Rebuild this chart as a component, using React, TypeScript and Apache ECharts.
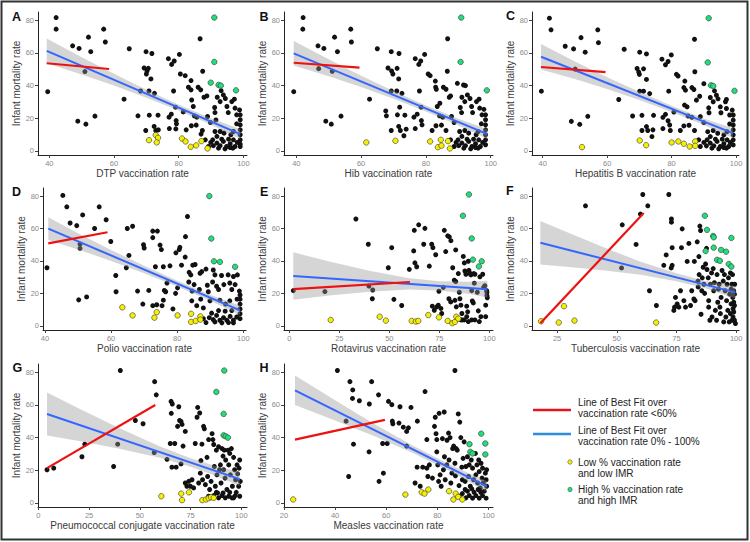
import React, { useEffect, useRef } from "react";
import * as echarts from "echarts";

const FONT = '"Liberation Sans", Arial, sans-serif';
const yTicks = [0, 20, 40, 60, 80];

// ---------- A: DTP ----------
const dtpBlack = [[42.1,81.6],[42.1,74.5],[39.5,36.2],[47.2,64.3],[49.2,62.7],[52.1,69.6],[52.8,60.7],[56.8,74.5],[57.3,66.6],[48.8,18.1],[51.3,16.3],[54.1,21.2],[51,48.5],[63.1,31.6],[64.7,62.5],[67.4,21.4],[69.9,60.7],[71.7,59.6],[69.3,50.7],[70.2,48.9],[70,47],[70.6,50.5],[71.4,44],[68.2,36.6],[70.8,36.6],[72.5,35.2],[70.9,21.8],[73.6,21.8],[69.8,12.4],[72.4,14.9],[72.9,12.4],[73.7,12.8],[76.8,56.4],[77.8,52.9],[78.6,55],[80.2,59],[80.5,47],[82,46],[78.4,36.6],[77,20.6],[77.7,22.4],[79,26.7],[79.2,18.5],[79.3,16.5],[79.1,13.4],[77.1,13.6],[81.4,23.8],[83,38.9],[83.8,43],[83.8,37.3],[84.5,27.1],[84,31.1],[84.8,21.4],[82.3,12.8],[83.9,15.3],[85.4,15.7],[85.6,20.6],[86.6,68.6],[86,38.9],[86.8,37.3],[87.4,48.7],[87.8,32.8],[87.3,12.4],[86.9,10.2],[88.7,33.6],[88.9,21],[89.8,17.3],[91.1,26.5],[91.2,23.4],[91.5,18.9],[91.9,32.8],[92.8,30.1],[93.1,36.8],[93.8,34.2],[94.4,32],[94.9,27.1],[95.3,23.4],[96.4,30.1],[97.2,31.6],[97.4,26.1],[97.9,22],[98.8,25],[99,22],[99,19],[99,15.9],[99,12.8],[99,9.8],[99,6.7],[99,4.1],[99,2.6],[97.9,16.5],[90.5,6.7],[91.8,4.7],[92.8,3.1],[93.8,5.7],[94.8,2.6],[95.9,4.3],[96.9,6.7],[92.3,1.6],[94.3,1.2],[95.9,2],[97.4,2.6],[90.7,3.1],[93.3,7.1],[95.4,7.1],[96.7,1.6],[98.1,5.1],[91.8,8.8],[96.1,9.8],[96.9,11.8],[94,10.8],[92.8,11.8],[91.2,11.8],[88.2,6.7],[89.2,2.6],[89.9,5.1]];
const dtpYellow = [[70.8,6.5],[72.9,9.6],[73.6,7.9],[73.2,5.1],[81,7.5],[82.1,5.7],[83.7,2.4],[85.4,3.3],[87,5.9],[88.9,1.4]];
const dtpGreen = [[91,81.6],[91,54.4],[89.9,41.7],[92.3,40.3],[93,39.9],[97.7,37]];
const dtpBand = [[39.2,53.6,68.8],[50,46.7,57.3],[60,39.9,47.1],[70,32.5,37.3],[80,24.6,28.2],[90,15.9,19.9],[99,7.2,13.2]];
const dtpFitAll = [[39.2,61.2],[99,10.2]];
const dtpFitLow = [[39.2,53.6],[58.5,50.1]];

// ---------- B: Hib ----------
const hibBlack = [[42.1,81.6],[42,74.5],[39.2,36.2],[46.7,64.3],[48.5,62.7],[51.8,69.6],[52.7,60.7],[56.8,74.5],[57,66.6],[49.1,18.1],[50.8,16.3],[53.8,21.2],[46.9,50.3],[51.1,48.7],[62.6,31.6],[65,62.5],[67.6,24.4],[67.8,21.4],[69.3,60.7],[71.7,59.6],[68.3,50.7],[69.4,48.9],[69.8,47],[71.1,50.5],[71.6,44],[69.3,36.6],[71,36.6],[72.6,35.2],[71.9,26.7],[71.2,22],[73.5,21.8],[69.3,12.4],[71.6,14.9],[72.1,12.4],[73.9,13.2],[73.2,9.2],[76.7,56.4],[77.8,52.9],[78.4,55],[79.6,59],[80.7,47],[81.3,46],[78,36.6],[76.3,20.6],[77.3,22.4],[78.5,26.7],[78.6,18.5],[78.8,15.9],[76.7,13.6],[82.9,42.7],[83,38.9],[83.2,37.7],[83.5,27.1],[84.3,29.1],[84.2,21.4],[81.9,12.4],[83.1,15.3],[84.8,15.7],[85.2,20.6],[86.7,68.6],[85.4,38.9],[86.2,37.7],[86.6,48.7],[87.2,32.8],[86.2,12.4],[87.6,33.6],[87.9,21],[88.7,17.3],[89.7,41.3],[91.6,40.3],[92.2,39.9],[90.6,26.5],[91,23.4],[91.1,32.8],[92,30.1],[92.8,34.2],[93.6,32],[94.1,27.1],[94.4,23.4],[95.6,30.1],[96.4,31.6],[96.6,26.1],[97.3,22],[97.9,25.4],[98.4,22],[98.4,19],[98.4,15.9],[98.4,12.8],[98.4,9.8],[98.4,6.7],[98.4,3.7],[97.1,16.5],[89.9,6.7],[91.1,4.7],[92.2,3.1],[93.2,5.7],[94.2,2.6],[95.3,4.3],[96.3,6.7],[91.7,1.6],[93.8,1.2],[95.3,2],[96.8,2.6],[90.1,3.1],[92.7,7.1],[94.7,7.1],[96.1,1.6],[97.5,5.1],[91.1,8.8],[95.5,9.8],[96.1,11.8],[93.2,10.8],[92,12.4],[90.4,11.8],[87.6,6.7],[88.7,2.6],[89.3,5.1]];
const hibYellow = [[61.6,5.1],[70.6,6.1],[81.3,5.7],[83.7,2.2],[84.6,6.7],[84.8,3.1],[86.8,5.9],[87.4,1.4]];
const hibGreen = [[90.9,81.6],[90.7,54.4],[98.8,37]];
const hibBand = [[39.2,52.2,67.2],[50,45.6,56],[60,39,46],[70,31.8,36.6],[80,24.1,27.7],[90,15.6,19.6],[99,7.2,13.2]];
const hibFitAll = [[39.2,59.7],[99,10.2]];
const hibFitLow = [[39.2,53.9],[59.5,50.9]];

// ---------- C: Hepatitis B ----------
const hepBlack = [[42.1,81.2],[42.6,74.1],[39.6,36.5],[47,64],[49.6,62.4],[51.9,69.3],[53.2,60.4],[57.1,74.1],[57.3,66.2],[48.9,18],[51.5,16.2],[54,21.1],[50.1,50],[63.6,31.4],[65.3,62.2],[67.9,21.3],[70.1,60.4],[72.2,59.3],[69.3,50.4],[69.8,48.2],[70,46.8],[71.3,50.2],[72.2,43.7],[70.1,36.5],[71.3,36.5],[73.2,35],[70.8,21.7],[74.4,21.7],[70.8,12.4],[72.2,14.8],[72.6,12.4],[74.2,12.8],[73.9,8.7],[77,56.1],[78.1,52.7],[78.9,54.7],[79.9,58.7],[81.5,46.8],[82,45.8],[79.1,36.5],[77.3,20.5],[78.1,22.3],[80.7,23.7],[78.9,18.4],[79.4,15.8],[77.3,13.6],[79.6,12.4],[83.8,38.7],[84.1,42.7],[84.3,37.1],[84.8,26.9],[84,28],[85.1,21.3],[82.7,12.4],[83.8,15.2],[85.4,15.6],[86.3,20.5],[87.1,68.3],[86.3,38.7],[86.9,37.5],[87.2,48.4],[87.7,31],[87.1,12.4],[88.7,33.4],[88.9,20.9],[90,17.2],[90,41.1],[91.5,26.3],[91.6,23.3],[92,32.6],[92.9,30],[93.3,36.7],[93.9,34],[94.4,31.8],[95.1,26.9],[95.3,23.3],[96.7,30],[97,31.4],[97,25.9],[98,21.9],[98.8,24.9],[99.1,21.9],[99.1,18.8],[99.1,15.8],[99.1,12.8],[99.1,9.7],[99.1,6.7],[99.1,3.6],[98,16.4],[91,6.7],[92,4.7],[93.1,3],[94.1,5.7],[95.1,2.6],[96.2,4.3],[97.2,6.7],[92.5,1.6],[94.6,1.2],[96.2,2],[97.7,2.6],[90.8,3],[93.6,7.1],[95.7,7.1],[97,1.6],[98.2,5.1],[92,8.7],[96.2,9.7],[97.2,11.7],[94.3,10.7],[92.9,12.4],[91.2,11.7],[88.9,2.6],[90,5.1],[88.4,6.7]];
const hepYellow = [[52.2,2.2],[70.1,6.3],[72.1,3.4],[80,5.1],[82.1,5.7],[83.8,4.3],[85.6,2.6],[87.3,5.7],[87.3,3]];
const hepGreen = [[91.5,81.2],[91.2,54.1],[92.2,40.1],[92.9,39.7],[99.5,36.7]];
const hepBand = [[39.5,49.8,65.4],[50,43.9,54.7],[60,37.9,45.1],[70,31.1,36.1],[80,23.8,27.6],[90,15.8,19.8],[99,7.8,13.8]];
const hepFitAll = [[39.5,57.6],[99,10.8]];
const hepFitLow = [[39.5,51.3],[59.5,48.2]];

// ---------- D: Polio ----------
const polioBlack = [[45.4,80.4],[46.6,73.4],[47.6,63.4],[49.6,61.8],[51.4,68.4],[55,60],[56.4,73.4],[58.5,65.4],[59.9,52],[40.6,35.8],[50.2,16],[52.6,17.8],[50.6,50.4],[50.6,47.8],[61.4,31],[61.5,21],[64.9,60],[66.5,61.4],[65.4,43.4],[64.6,35.8],[68,21.4],[69.8,50],[70,48],[71.4,21.8],[69.6,13.4],[72.6,58.4],[74,58.4],[72.6,54.4],[73.4,36.4],[74.8,49.8],[75.2,47],[75.8,36.4],[72.6,12.4],[73.8,13],[75.4,12.4],[75.8,15.8],[76.1,21.8],[76.5,21],[76.9,26.4],[77.8,37],[78.7,10.4],[79.6,45],[80.6,47],[80.8,48.4],[79.5,20],[80.1,23.4],[81.3,37.4],[82.4,42.4],[82.5,55],[83.1,67.4],[83.5,27],[83.6,33],[84.1,31.4],[84.7,37.4],[85.4,37.8],[85.1,25.4],[84.5,21.4],[84.4,15.4],[85.9,12.4],[86.7,22.4],[86.9,32.4],[87.4,33.4],[87.1,16.4],[87.9,11],[88.7,35],[89.1,25],[89.4,21],[89.9,15.4],[90.9,34.4],[90.7,27],[91.4,31.4],[91.9,24.4],[92.5,22.4],[92.9,15.8],[93.4,31],[94.1,25.4],[95.4,31.4],[95.9,26.4],[96.5,22.4],[97,30.4],[97.5,25.4],[98.2,31.4],[98.8,21.4],[99,19],[99,16.4],[99,13.4],[99,10.4],[99,7.4],[99,4.4],[98.1,16.4],[95.9,15.4],[94.6,13.4],[89.7,5],[90.9,3.8],[91.9,6.4],[92.9,3.4],[94,5],[95,3.4],[96,5.8],[97,3.4],[98,5.4],[91.4,2.4],[93.5,1.8],[95.5,2],[97,1.8],[92.5,9.4],[94.5,9],[96.5,9.4],[88.7,2],[90.4,7.8],[87.9,4.4]];
const polioYellow = [[63.4,11.4],[66.5,6.4],[73.1,5],[73.8,8.4],[80.1,6.4],[84.2,7.4],[84.2,2.4],[85.6,3],[87,5.8],[87,3.8]];
const polioGreen = [[89.7,80],[90.3,53.8],[91.1,39.8],[92.9,39.4],[97.5,36.4]];
const polioBand = [[41,52.9,66.9],[50,47.1,57.1],[60,40,46.8],[70,32.4,37],[80,24.2,27.8],[90,15.4,19.2],[99,6.7,12.3]];
const polioFitAll = [[41,59.9],[99,9.5]];
const polioFitLow = [[41,50.8],[58.9,57.7]];

// ---------- E: Rotavirus ----------
const rotaBlack = [[2,21.7],[17.8,21.1],[33.3,65.9],[39.5,50.3],[39.8,24.5],[41.7,22.1],[41.5,16.7],[49.5,35.8],[51.2,48.2],[52.3,16.3],[56.2,12.5],[60,34.8],[62.5,58.9],[62.2,46.2],[62.8,38.8],[63.7,36.4],[64.7,62.3],[67.2,50.3],[67.8,60.1],[70,36.8],[71.2,50.3],[71.8,48.2],[73.2,43.8],[71.5,12.1],[72.5,9.6],[73.7,11.7],[74.8,21.3],[74.5,12.7],[75.8,10.7],[76.2,7.6],[77,23.7],[77.5,58.9],[78.2,45.8],[79.2,55.5],[80,54.9],[80.8,52.5],[79.8,16.7],[80.7,14.7],[81.7,35.8],[82.5,28.1],[83.2,46.8],[82.8,15.7],[83.2,27.3],[83.5,11.7],[84.5,32.2],[85,20.7],[85.3,16.7],[85.8,12.7],[86.3,7.6],[86.5,3.6],[87,42.8],[87.5,38.8],[87.8,33.8],[88.3,31.8],[88.7,12.1],[89.2,8.6],[89.5,39.8],[89.8,34.2],[90.3,32.4],[90.8,31.4],[91.2,21.7],[91.5,15.3],[92,14.1],[92.2,32.2],[92.8,31.8],[92.5,26.3],[94,20.7],[94.5,9.2],[95,2.6],[95.3,30.2],[95.8,5.6],[96.7,31.8],[97.2,23.7],[97.8,24.7],[98.2,5.6],[98.2,12.7],[98.7,21.7],[98.8,18.7],[98.8,20.7],[99,17.3],[85.8,3.6],[87.5,3.6],[89.5,2.6],[91.2,3.6],[88.7,5.6],[92.8,3.6]];
const rotaYellow = [[20.7,3.6],[45.2,5.6],[48.3,3.2],[61.2,3],[63.3,2.6],[64.5,3],[69.5,6.6],[74.8,5.2],[79.2,3],[81.5,1.6],[82.8,2.4],[83.5,5.6],[84.5,4.4]];
const rotaGreen = [[89.8,81],[86.8,67.9],[91.2,53.9],[91.8,40.8],[96.2,39.8],[94.8,36.6]];
const rotaBand = [[2,16.1,45.3],[20,18.7,39.7],[40,21,34],[60,22.4,29.4],[75,21.8,27.4],[90,19.6,27.2],[99,17.4,27.8]];
const rotaFitAll = [[2,30.7],[99,22.6]];
const rotaFitLow = [[2,22.6],[60.3,27]];

// ---------- F: Tuberculosis ----------
const tbBlack = [[36.9,74],[52,35.7],[52.3,62.3],[58.1,50.2],[60.9,81],[59.9,68.9],[63,74],[63.7,21.6],[66.6,12.5],[69.7,37.3],[70.7,43.7],[71.8,81],[72.8,35.7],[73.2,37.3],[72.9,65.9],[72.9,63.9],[73.2,48.2],[73.9,9.5],[74.6,17.5],[74.2,11.5],[75.3,13.5],[76,11.5],[76.7,21.6],[77.1,48.2],[77.4,59.8],[78.1,15.5],[78.8,11.5],[79.5,39.7],[80.2,50.8],[80.9,12.5],[81.4,21.6],[82.3,16.5],[82.5,39.7],[82.8,15.5],[83.7,51.8],[84,27.6],[84.1,24],[84.4,42.7],[84.5,31.6],[84.8,61.5],[85.1,58.8],[85.3,7.1],[85.6,21.6],[85.8,29.6],[86.2,36.1],[86.5,25.6],[86.8,20],[87.2,38.1],[87.6,47.8],[87.8,34.7],[88.3,29.6],[88.5,15.5],[88.5,11.5],[89,3.4],[89.2,25.6],[89.7,32.6],[89.9,5.4],[90.4,35.3],[90.6,21.6],[90.9,26.6],[91.3,9.5],[91.8,3.4],[92,31.6],[92.3,14.5],[92.6,22.6],[92.9,25.6],[93.2,11.5],[93.4,7.5],[93.7,17.5],[94.1,34.1],[94.6,27.6],[94.8,2.4],[95.1,31.6],[95.4,21.6],[95.7,5.4],[96,15.5],[96.2,25.6],[96.5,9.5],[96.8,29.6],[97.1,2.4],[97.3,19.5],[97.6,32.6],[97.6,7.5],[97.9,13.5],[97.9,22.6],[98.2,25.6],[98.3,3.4],[98.5,31.6],[98.6,17.5],[98.7,10.5],[98.7,5.4],[99,21.6],[99,14.5],[99,8.5],[99.3,19.5],[99.3,12.5],[99.3,3.4],[99.4,25.6],[99.7,1.4]];
const tbYellow = [[18.3,2.8],[25.7,2],[27.9,12.1],[32.3,3.2],[66.5,2]];
const tbGreen = [[86.9,67.9],[87.8,59.2],[90.4,55.4],[90.6,54.6],[87.2,46.1],[90.6,48.2],[92,40.7],[93.2,40.1],[93.7,46.8],[95.8,45.7],[96.9,38.1],[98,36.5],[98,54.2]];
const tbBand = [[18,37.8,64.6],[30,36.2,57.2],[45,34.1,48.1],[60,31.5,39.5],[75,27.4,32.4],[87,23.1,27.7],[99.7,16.8,24.4]];
const tbFitAll = [[18,51.2],[99.7,20.6]];
const tbFitLow = [[18,1.5],[61.3,69.6]];

// ---------- G: Pneumococcal conjugate ----------
const pcvBlack = [[4.3,20.2],[7.6,21.2],[21.5,28.2],[22.9,35.9],[37.1,22.2],[39.1,35.9],[40.4,81],[47.8,50.4],[51.6,48.4],[57.3,74.2],[58.1,66.1],[57.1,30.8],[63.4,26.6],[65.4,62.1],[66,60.5],[65.5,54.8],[65,36.3],[67.2,36.3],[65.8,21.8],[67.9,21.8],[68.6,46.8],[69.2,58.8],[69.6,50.4],[70.3,49.8],[70.8,48],[70.3,23.8],[71.3,34.7],[72.4,43.7],[72.4,12.1],[73.2,10.1],[74.1,13.1],[74.9,10.1],[75.7,14.1],[76.5,9.1],[77.3,36.3],[78.2,52.4],[78.5,58.4],[79,12.1],[79.5,55],[79.8,18.1],[80.1,25.8],[80.6,35.9],[80.9,14.1],[81.4,46.8],[81.8,45.3],[82.3,11.1],[83.1,27.8],[83.4,16.1],[83.9,38.7],[84.4,8.1],[85.1,13.1],[85.6,42.3],[86,38.7],[86.4,35.7],[86.7,22.2],[87.2,10.1],[87.7,32.2],[88,17.1],[88.3,6],[88.8,34.3],[89.3,20.2],[89.7,23.2],[90,12.1],[90.5,33.2],[91,28.6],[91.3,20.2],[91.6,32.2],[92,15.1],[92.3,26.2],[92.9,8.1],[93.4,32.2],[93.8,23.2],[94.3,30.2],[94.6,17.1],[95.1,33.2],[95.6,10.1],[96.2,27.8],[96.7,20.2],[97.2,14.1],[97.9,23.2],[98.2,17.7],[98.7,10.1],[98.9,21.2],[99.2,26.2],[99.2,4],[99.5,13.1],[83.9,4],[86.4,4.4],[88.8,3],[90.5,4.4],[92.1,3],[93.8,4],[95.4,3],[97,4.4],[87.7,6.4],[91,6],[94.3,6.4],[97.5,6.4],[96.2,3]];
const pcvYellow = [[60.6,4],[70.4,5.6],[70.8,1.6],[74.2,6.4],[80.8,1.6],[82.6,2],[83.9,2.8],[85.1,3.4],[86.4,3]];
const pcvGreen = [[91.6,81],[87.7,67.9],[91.3,54.4],[91.3,41.3],[92.3,40.7],[93.4,39.9]];
const pcvBand = [[4.3,41.2,67.6],[20,37.8,57.8],[40,33.1,45.7],[60,27.5,34.5],[75,22.1,27.3],[88,16.2,22.2],[99.2,10.2,18.8]];
const pcvFitAll = [[4.3,54.4],[99.2,14.5]];
const pcvFitLow = [[4.3,21.2],[57.6,59.9]];

// ---------- H: Measles ----------
const measBlack = [[40.9,81],[45.8,74.2],[46.9,69.1],[46.8,63.9],[49.5,62.5],[54.3,74.2],[53.4,60.5],[57,66.1],[44.3,50],[47.2,35.9],[45.3,16.1],[53.3,31.2],[57.2,13.1],[58.9,18.1],[58.6,36.3],[60.4,36.3],[60.9,62.1],[62.2,60.1],[62.4,50],[62.6,48.4],[65.4,58.8],[65,48.8],[66.7,46.3],[68,43.7],[68.7,45.9],[68,34.7],[69.7,58.4],[72.2,50],[72.1,21.8],[71.3,12.1],[73.3,10.1],[74.3,21.8],[75.2,68.1],[75.9,21.2],[75.9,38.7],[76.3,16.1],[76.9,23.2],[78.1,15.1],[78.9,46.8],[79.2,52.4],[79.5,42.3],[79.8,38.7],[79.8,31.2],[80.2,23.2],[80.7,54.8],[80.5,13.1],[81.1,17.1],[81.5,10.1],[82,39.3],[82.4,20.2],[82.7,55.6],[82.8,28.2],[83.1,14.1],[83.7,23.2],[83.8,38.3],[84.4,42.7],[84.6,26.2],[85,39.9],[85.3,12.1],[85.7,18.1],[86,33.2],[86.4,34.7],[86.9,81],[86.9,24.2],[87.1,16.5],[87.4,33.2],[87.8,32.2],[88.2,54.4],[88.5,10.5],[88.8,49.4],[89.2,39.9],[89.6,21.8],[89.8,14.1],[90.1,27.2],[90.5,37.3],[90.9,13.1],[91.2,22.2],[91.8,28.2],[92.2,16.1],[92.5,23.2],[92.9,10.1],[93.3,26.2],[93.8,21.2],[94.2,14.1],[94.9,30.2],[95.1,17.1],[95.5,23.2],[95.8,12.1],[96.2,26.2],[96.4,19.1],[96.8,9.1],[97.1,24.2],[97.5,15.1],[97.7,21.2],[98,12.1],[98.4,7.1],[98.8,18.1],[99.1,14.1],[99.3,10.1],[99.3,20.2],[88.5,4],[89.8,5.6],[91.2,3],[92.5,4.4],[93.8,2.8],[95.1,4.4],[96.4,2.8],[97.7,4.4],[99.1,2.8],[91.8,7.1],[94.4,6.4],[97,6.4],[90.9,8.1],[93.5,8.5],[96,8.1]];
const measYellow = [[23.6,2],[67.5,5],[73.9,6.4],[75,5.6],[76.5,8.1],[84.6,7.1],[86.3,2],[87.2,5.6],[88.2,3.6],[89.8,2]];
const measGreen = [[97.2,42.3],[92.6,35.9],[92.9,31.2],[93.8,30.2],[98.8,36.3],[98.8,29.6]];
const measBand = [[24.3,59.9,77.9],[40,50.4,62.8],[55,41,48.6],[70,30.8,35.4],[85,19.3,23.3],[99.4,6.8,13.2]];
const measFitAll = [[24.3,68.9],[99.4,10]];
const measFitLow = [[24.3,38.7],[59.5,50.8]];

// ---------- legend texts ----------
const legendRed = ["Line of Best Fit over", "vaccination rate <60%"];
const legendBlue = ["Line of Best Fit over", "vaccination rate 0% - 100%"];
const legendYellow = ["Low % vaccination rate", "and low IMR"];
const legendGreen = ["High % vaccination rate", "and high IMR"];

const PANELS = [
  { letter: "A", title: "DTP vaccination rate", black: dtpBlack, yellow: dtpYellow, green: dtpGreen, band: dtpBand, fitAll: dtpFitAll, fitLow: dtpFitLow, ticks: [40, 60, 80, 100], left: 38, top: 12, width: 209, height: 143, xMin: 36.5, xMax: 101.1, lx: 12, ly: 16.5 },
  { letter: "B", title: "Hib vaccination rate", black: hibBlack, yellow: hibYellow, green: hibGreen, band: hibBand, fitAll: hibFitAll, fitLow: hibFitLow, ticks: [40, 60, 80, 100], left: 284, top: 12, width: 209, height: 143, xMin: 36.2, xMax: 100.7, lx: 259.5, ly: 16.5 },
  { letter: "C", title: "Hepatitis B vaccination rate", black: hepBlack, yellow: hepYellow, green: hepGreen, band: hepBand, fitAll: hepFitAll, fitLow: hepFitLow, ticks: [40, 60, 80, 100], left: 532, top: 12, width: 207, height: 143, xMin: 36.7, xMax: 100.9, lx: 506, ly: 16 },
  { letter: "D", title: "Polio vaccination rate", black: polioBlack, yellow: polioYellow, green: polioGreen, band: polioBand, fitAll: polioFitAll, fitLow: polioFitLow, ticks: [40, 60, 80, 100], left: 43, top: 188, width: 203, height: 142, xMin: 39.4, xMax: 100.8, lx: 12, ly: 191.5 },
  { letter: "E", title: "Rotavirus vaccination rate", black: rotaBlack, yellow: rotaYellow, green: rotaGreen, band: rotaBand, fitAll: rotaFitAll, fitLow: rotaFitLow, ticks: [0, 25, 50, 75, 100], left: 284, top: 188, width: 209, height: 142, xMin: -2.65, xMax: 101.85, lx: 260, ly: 191.5 },
  { letter: "F", title: "Tuberculosis vaccination rate", black: tbBlack, yellow: tbYellow, green: tbGreen, band: tbBand, fitAll: tbFitAll, fitLow: tbFitLow, ticks: [25, 50, 75, 100], left: 532, top: 188, width: 207, height: 142, xMin: 14.5, xMax: 101.2, lx: 506, ly: 191 },
  { letter: "G", title: "Pneumococcal conjugate vaccination rate", black: pcvBlack, yellow: pcvYellow, green: pcvGreen, band: pcvBand, fitAll: pcvFitAll, fitLow: pcvFitLow, ticks: [0, 25, 50, 75, 100], left: 38, top: 364, width: 209, height: 143, xMin: -0.15, xMax: 102.8, lx: 12.5, ly: 367.5 },
  { letter: "H", title: "Measles vaccination rate", black: measBlack, yellow: measYellow, green: measGreen, band: measBand, fitAll: measFitAll, fitLow: measFitLow, ticks: [20, 40, 60, 80, 100], left: 284, top: 364, width: 209, height: 143, xMin: 20, xMax: 101.8, lx: 259.5, ly: 368 },
];

const BLUE = "#3366ff";
const RED = "#ee1111";
const YELLOW = "#f6f000";
const GREEN = "#22dd7a";

export default function App() {
  const ref = useRef<HTMLDivElement>(null);

  useEffect(() => {
    if (!ref.current) return;
    const chart = echarts.init(ref.current, null, { renderer: "svg" });
    const grid: any[] = [];
    const xAxis: any[] = [];
    const yAxis: any[] = [];
    const series: any[] = [];
    const graphic: any[] = [];

    PANELS.forEach((p, i) => {
      grid.push({ left: p.left, top: p.top, width: p.width, height: p.height, outerBoundsMode: "none", containLabel: false });
      xAxis.push({
        type: "value", gridIndex: i, min: p.xMin, max: p.xMax,
        name: p.title, nameLocation: "middle", nameGap: 13,
        nameTextStyle: { fontFamily: FONT, fontSize: 10, color: "#3a3a3a" },
        splitLine: { show: false },
        axisLine: { show: true, onZero: false, lineStyle: { color: "#222", width: 1 } },
        axisTick: { show: true, length: 3, customValues: p.ticks, lineStyle: { color: "#444" } },
        axisLabel: { customValues: p.ticks, fontSize: 7.5, color: "#8a8a8a", margin: 4, fontFamily: FONT },
      });
      yAxis.push({
        type: "value", gridIndex: i, min: -2.6, max: 85,
        name: "Infant mortality rate", nameLocation: "middle", nameGap: 17, nameRotate: 90,
        nameTextStyle: { fontFamily: FONT, fontSize: 10, color: "#3a3a3a" },
        splitLine: { show: false },
        axisLine: { show: true, onZero: false, lineStyle: { color: "#222", width: 1 } },
        axisTick: { show: true, length: 3, customValues: yTicks, lineStyle: { color: "#444" } },
        axisLabel: { customValues: yTicks, fontSize: 7.5, color: "#8a8a8a", margin: 4, fontFamily: FONT },
      });
      series.push({
        type: "scatter", xAxisIndex: i, yAxisIndex: i, data: p.black, symbolSize: 5,
        itemStyle: { color: "#111", opacity: 1 }, z: 2, silent: true,
      });
      series.push({
        type: "scatter", xAxisIndex: i, yAxisIndex: i, data: p.yellow, symbolSize: 5.5,
        itemStyle: { color: YELLOW, borderColor: "#333", borderWidth: 0.6, opacity: 1 }, z: 2, silent: true,
      });
      series.push({
        type: "scatter", xAxisIndex: i, yAxisIndex: i, data: p.green, symbolSize: 5.5,
        itemStyle: { color: GREEN, borderColor: "#333", borderWidth: 0.6, opacity: 1 }, z: 2, silent: true,
      });
      const band = p.band;
      series.push({
        type: "custom", xAxisIndex: i, yAxisIndex: i, z: 3, silent: true,
        data: [[band[0][0], band[0][1]]],
        encode: { x: 0, y: 1 },
        renderItem: (_params: any, api: any) => {
          const pts: number[][] = [];
          for (let k = 0; k < band.length; k++) pts.push(api.coord([band[k][0], band[k][2]]));
          for (let k = band.length - 1; k >= 0; k--) pts.push(api.coord([band[k][0], band[k][1]]));
          return { type: "polygon", shape: { points: pts, smooth: 0 }, style: { fill: "rgba(150,150,150,0.4)" } };
        },
      });
      series.push({
        type: "line", xAxisIndex: i, yAxisIndex: i, data: p.fitAll, symbol: "none",
        lineStyle: { color: BLUE, width: 2 }, z: 4, silent: true,
      });
      series.push({
        type: "line", xAxisIndex: i, yAxisIndex: i, data: p.fitLow, symbol: "none",
        lineStyle: { color: RED, width: 2.2 }, z: 5, silent: true,
      });
      graphic.push({
        type: "text", x: p.lx, y: p.ly,
        style: { text: p.letter, font: `bold 12.5px ${FONT}`, fill: "#111", verticalAlign: "middle", align: "left" },
      });
    });

    // legend
    const tx = 578;
    const addText = (lines: string[], y1: number, y2: number) => {
      graphic.push({ type: "text", x: tx, y: y1, style: { text: lines[0], font: `10px ${FONT}`, fill: "#222", verticalAlign: "middle" } });
      graphic.push({ type: "text", x: tx, y: y2, style: { text: lines[1], font: `10px ${FONT}`, fill: "#222", verticalAlign: "middle" } });
    };
    graphic.push({ type: "line", shape: { x1: 533, y1: 410, x2: 571, y2: 410 }, style: { stroke: "#e8141b", lineWidth: 2.4 } });
    addText(legendRed, 402.5, 413);
    graphic.push({ type: "line", shape: { x1: 533, y1: 434, x2: 571, y2: 434 }, style: { stroke: "#2a8de0", lineWidth: 2.4 } });
    addText(legendBlue, 430, 441);
    graphic.push({ type: "circle", shape: { cx: 570, cy: 462, r: 2.2 }, style: { fill: YELLOW, stroke: "#555", lineWidth: 0.6 } });
    addText(legendYellow, 462, 473);
    graphic.push({ type: "circle", shape: { cx: 570, cy: 489.5, r: 2.2 }, style: { fill: GREEN, stroke: "#555", lineWidth: 0.6 } });
    addText(legendGreen, 489.5, 500.5);

    // figure frame
    graphic.push({ type: "rect", shape: { x: 1.5, y: 1.5, width: 746, height: 538 }, style: { fill: "none", stroke: "#333", lineWidth: 2 }, z: 100 });

    chart.setOption({
      animation: false,
      backgroundColor: "#ffffff",
      grid, xAxis, yAxis, series, graphic,
    });
    return () => chart.dispose();
  }, []);

  return <div ref={ref} style={{ position: "fixed", left: 0, top: 0, width: 750, height: 542, background: "#fff" }} />;
}
